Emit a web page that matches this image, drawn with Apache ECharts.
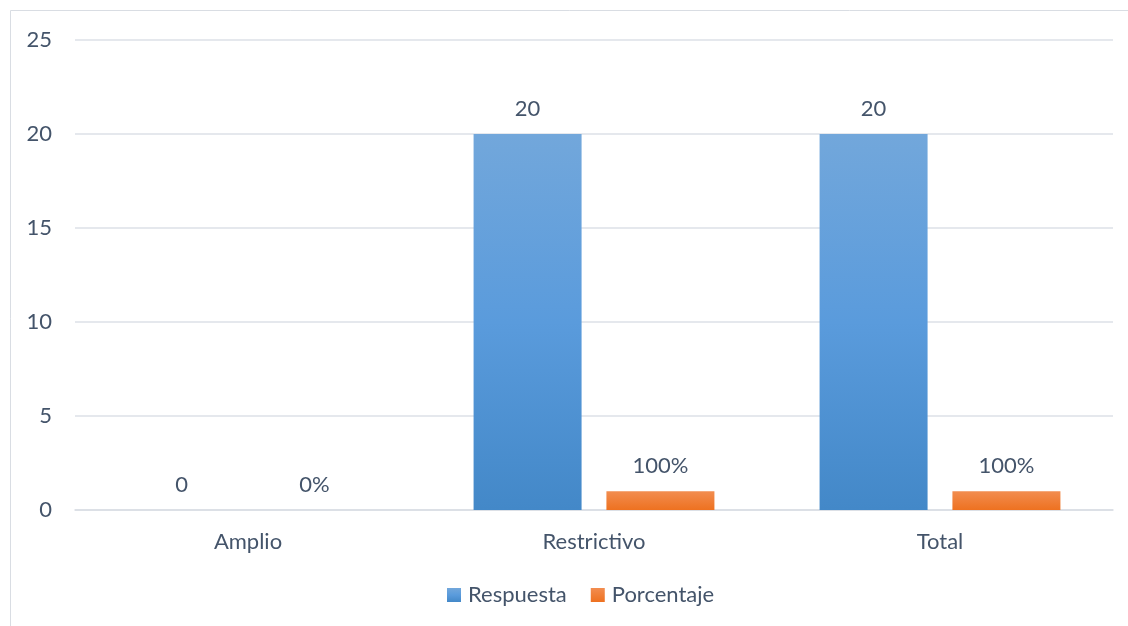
<!DOCTYPE html>
<html>
<head>
<meta charset="utf-8">
<script src="https://cdn.jsdelivr.net/npm/echarts@6/dist/echarts.min.js"></script>
<style>
  html, body { margin: 0; padding: 0; background: #fff; }
  #main { width: 1128px; height: 626px; }
</style>
</head>
<body>
<div id="main"></div>
<script>
const categories = ['Amplio', 'Restrictivo', 'Total'];
const respuesta = [0, 20, 20];
const porcentaje = [0, 1, 1];
const porcentajeLabels = ['0%', '100%', '100%'];
const yTicks = [0, 5, 10, 15, 20, 25];

const textColor = '#44546a';
const font = 'Lato, "Open Sans", sans-serif';
const fs = 22;

const chart = echarts.init(document.getElementById('main'));

const option = {
  backgroundColor: '#fff',
  textStyle: { fontFamily: font },
  graphic: [{
    type: 'rect',
    shape: { x: 10.5, y: 10.5, width: 1130, height: 630 },
    style: { fill: 'none', stroke: '#d9dde3', lineWidth: 1 },
    silent: true
  }],
  grid: { left: 75, right: 15, top: 40, bottom: 116 },
  legend: {
    bottom: 15,
    left: 442,
    itemWidth: 14,
    itemHeight: 14,
    itemGap: 24,
    icon: 'rect',
    textStyle: { color: textColor, fontSize: fs, fontFamily: font, padding: [0, 0, 0, 2] },
    data: ['Respuesta', 'Porcentaje']
  },
  xAxis: {
    type: 'category',
    data: categories,
    axisLine: { lineStyle: { color: '#d9dde3', width: 1.5 } },
    axisTick: { show: false },
    axisLabel: { color: textColor, fontSize: fs, margin: 21 }
  },
  yAxis: {
    type: 'value',
    min: yTicks[0],
    max: yTicks[yTicks.length - 1],
    interval: 5,
    axisLine: { show: false },
    axisTick: { show: false },
    axisLabel: { color: textColor, fontSize: fs, margin: 23 },
    splitLine: { lineStyle: { color: '#dde1e7', width: 1.5 } }
  },
  series: [
    {
      name: 'Respuesta',
      type: 'bar',
      data: respuesta,
      barWidth: 108,
      barGap: '23%',
      itemStyle: {
        color: new echarts.graphic.LinearGradient(0, 0, 0, 1, [
          { offset: 0, color: '#72a7db' },
          { offset: 0.5, color: '#5a9bdc' },
          { offset: 1, color: '#4388c8' }
        ])
      },
      label: {
        show: true,
        position: 'top',
        distance: 14,
        color: textColor,
        fontSize: fs,
        fontFamily: font
      }
    },
    {
      name: 'Porcentaje',
      type: 'bar',
      data: porcentaje,
      barWidth: 108,
      itemStyle: {
        color: new echarts.graphic.LinearGradient(0, 0, 0, 1, [
          { offset: 0, color: '#f28d50' },
          { offset: 1, color: '#ee7120' }
        ])
      },
      label: {
        show: true,
        position: 'top',
        distance: 14,
        color: textColor,
        fontSize: fs,
        fontFamily: font,
        formatter: p => porcentajeLabels[p.dataIndex]
      }
    }
  ]
};

chart.setOption(option);
</script>
</body>
</html>
